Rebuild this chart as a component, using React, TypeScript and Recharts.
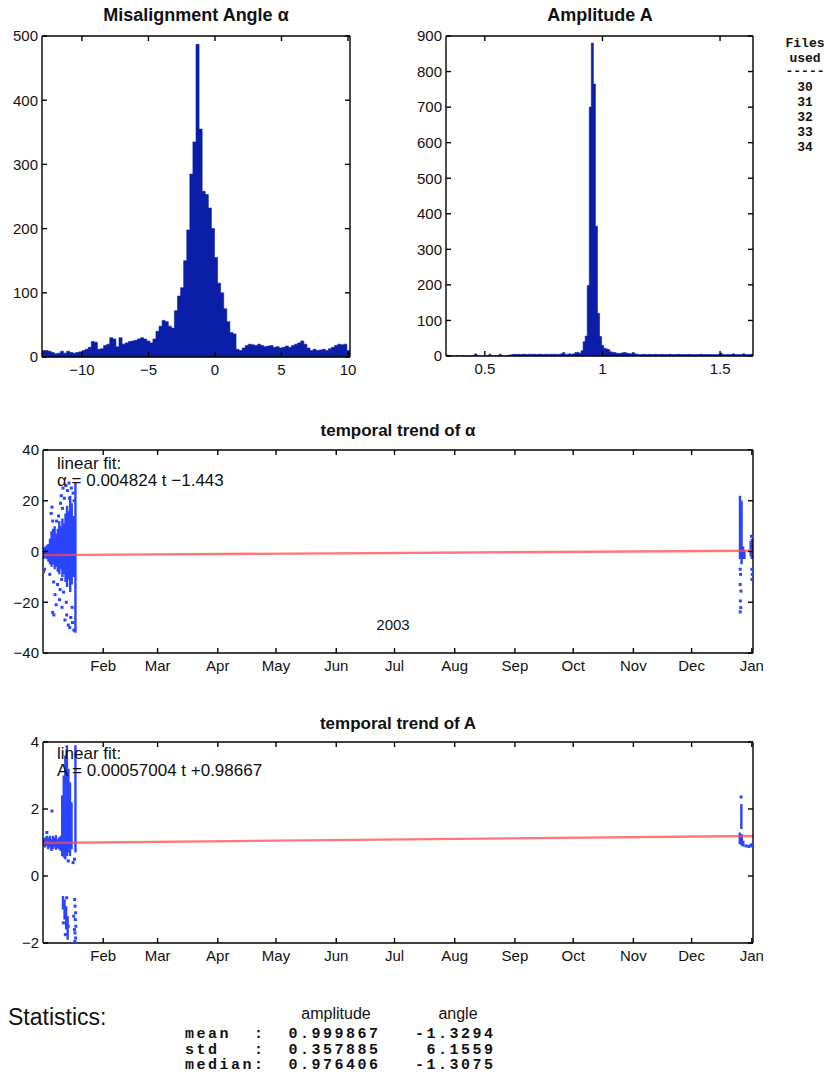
import React from "react";
import { ComposedChart, Area, Line, Scatter, XAxis, YAxis } from "recharts";

const SANS = '"Liberation Sans", Arial, Helvetica, sans-serif';
const MONO = '"Liberation Mono", "Courier New", monospace';
const NAVY = "#0a1ea8";
const DOT = "#2a44ff";
const FIT = "#ff4a4a";
const INK = "#111";

// histogram of the misalignment angle (100 bins)
const alphaBinStart = -13;
const alphaBinWidth = 0.2315;
const alphaCounts = [
  10, 10, 9, 7, 5, 6, 9, 6, 9, 7,
  6, 7, 8, 10, 12, 15, 24, 23, 12, 13,
  18, 20, 30, 28, 16, 30, 20, 22, 24, 25,
  26, 28, 30, 28, 25, 22, 28, 40, 48, 57,
  55, 48, 45, 72, 95, 108, 150, 198, 285, 335,
  487, 355, 258, 253, 232, 200, 155, 115, 100, 75,
  55, 38, 36, 12, 10, 14, 18, 20, 19, 18,
  20, 18, 16, 17, 18, 15, 16, 14, 15, 17,
  15, 18, 20, 22, 25, 20, 14, 10, 12, 10,
  11, 12, 10, 13, 15, 18, 20, 19, 20, 10,
];
const alphaTicks = [-10, -5, 0, 5, 10];
const alphaCountTicks = [0, 100, 200, 300, 400, 500];

// histogram of the amplitude (150 bins)
const ampBinStart = 0.335;
const ampBinWidth = 0.0087;
const ampCounts = [
  3, 1, 1, 0, 0, 1, 0, 0, 1, 0,
  0, 1, 0, 1, 6, 1, 0, 0, 1, 0,
  1, 5, 1, 0, 1, 1, 5, 1, 0, 1,
  2, 3, 4, 5, 4, 5, 4, 5, 5, 4,
  5, 4, 5, 5, 4, 5, 5, 4, 5, 5,
  4, 5, 5, 5, 4, 5, 6, 10, 5, 5,
  6, 5, 6, 10, 10, 8, 15, 40, 56, 198,
  700, 880, 765, 365, 120, 55, 30, 22, 20, 18,
  12, 10, 10, 8, 7, 8, 9, 10, 8, 7,
  6, 10, 6, 5, 4, 4, 5, 4, 4, 5,
  4, 4, 5, 4, 4, 5, 4, 4, 4, 5,
  4, 4, 4, 5, 4, 4, 4, 4, 5, 4,
  4, 4, 4, 4, 5, 4, 4, 4, 4, 4,
  4, 4, 4, 5, 8, 4, 4, 4, 4, 4,
  6, 4, 4, 4, 4, 6, 4, 4, 4, 5,
];
const ampTicks = [0.5, 1, 1.5];
const ampCountTicks = [0, 100, 200, 300, 400, 500, 600, 700, 800, 900];

// time axis: day of year 2003
const dayDomain = [0, 365.6];
const monthDays = [31, 59, 90, 120, 151, 181, 212, 243, 273, 304, 334, 365];
const monthNames = ["Feb", "Mar", "Apr", "May", "Jun", "Jul", "Aug", "Sep", "Oct", "Nov", "Dec", "Jan"];

// alpha vs time: dense columns [day, low, high] and loose points [day, value]
const alphaColumns = [
  [0.3, -3, 1.5], [1.2, -2.5, 2], [2.0, -3, 2.5], [2.8, -4, 3], [3.6, -5, 5],
  [4.4, -6, 8], [5.2, -5, 9], [6.0, -7, 10], [6.8, -6, 7], [7.6, -8, 9],
  [8.4, -9, 12], [9.2, -7, 10], [10.0, -10, 13], [10.8, -9, 11], [11.6, -12, 15],
  [12.4, -14, 18], [13.2, -11, 16], [14.0, -16, 22], [14.8, -13, 19], [15.6, -10, 14],
  [16.7, -32, 27],
  [358.9, -3, 22], [359.7, -5, 20], [360.5, -3, 2], [361.2, -3, 0.5],
  [364.4, -2, 4], [365.0, -3, 5], [365.5, -1, 3],
];
const alphaPoints = [
  [0.3, -8], [0.8, -7], [3.5, -9], [4.2, 15], [4.6, 17.5], [5.0, 12], [5.5, -12],
  [5.0, -24], [5.6, -25], [6.2, -17], [6.8, -21], [7.5, -13], [8.0, 14], [8.5, -19],
  [9.0, 19], [9.4, 22], [9.8, -22], [10.3, 25], [10.6, -16], [11.0, 21], [11.3, -27],
  [11.8, 26], [12.2, -25], [12.6, 24], [13.0, -29], [13.4, 27], [13.8, -30], [14.3, -26],
  [14.6, 25], [15.2, -28], [15.5, 23], [15.9, -31], [16.0, 20], [15.0, -22], [12.0, -20],
  [10.0, 17], [8.8, -15], [7.0, 12], [9.6, -11], [13.6, 21],
  [359.0, -7], [359.2, -9], [359.0, -13], [359.4, -15.6], [359.1, -19.5], [359.3, -22.1],
  [359.0, -23.8], [365.0, -7], [365.2, -9], [365.1, -11], [364.8, 6],
];
const alphaFit = [{ t: 0, v: -1.443 }, { t: 365.6, v: 0.3207 }];
const alphaTrendTicks = [-40, -20, 0, 20, 40];

// amplitude vs time
const ampColumns = [
  [0.3, 0.9, 1.1], [1.1, 0.85, 1.15], [1.9, 0.9, 1.2], [2.7, 0.8, 1.15], [3.5, 0.85, 1.2],
  [4.3, 0.75, 1.1], [5.1, 0.8, 1.2], [5.9, 0.85, 1.15], [6.7, 0.78, 1.22], [7.5, 0.82, 1.1],
  [8.3, 0.8, 1.15], [9.1, 0.75, 1.2], [9.9, 0.6, 2.4], [10.7, 0.55, 3.0], [11.5, 0.5, 3.6],
  [12.3, 0.6, 3.9], [13.1, 0.7, 3.2], [13.9, 0.6, 2.8], [14.7, 0.8, 2.2], [16.7, 0.7, 3.9],
  [10.3, -0.6, -1.0], [11.1, -0.7, -1.3], [11.9, -0.9, -1.6], [12.7, -1.2, -1.9],
  [359.6, 1.4, 2.15], [358.8, 0.95, 1.3], [359.8, 0.9, 1.25], [360.6, 0.88, 1.05],
];
const ampPoints = [
  [4.6, 1.94], [2.0, 1.3], [15.5, 0.4], [16.2, 0.5], [13.0, 0.45],
  [10.5, -1.4], [11.5, -1.75], [12.2, -0.65], [13.0, -1.5], [16.3, -0.7], [16.5, -0.9],
  [16.8, -1.1], [16.6, -1.3], [16.9, -1.5], [16.5, -1.7], [16.8, -1.85], [16.4, -1.95],
  [15.8, -1.2], [16.2, -1.6],
  [359.5, 2.36], [362.0, 0.9], [363.5, 0.88], [364.5, 0.92], [365.3, 0.9], [365.5, 0.95],
];
const ampFit = [{ t: 0, v: 0.98667 }, { t: 365.6, v: 1.19508 }];
const ampTrendTicks = [-2, 0, 2, 4];

const filesUsed = ["30", "31", "32", "33", "34"];
const statRows = [
  "mean  :  0.999867   -1.3294",
  "std   :  0.357885    6.1559",
  "median:  0.976406   -1.3075",
];

// ---- helpers ----
type Box = { x0: number; y0: number; x1: number; y1: number };
const PAD = { l: 50, t: 10, r: 10, b: 30 };
const frameLine = { stroke: "#000", strokeWidth: 1.4 };
const tickText = { fontFamily: SANS, fontSize: 15, fill: INK };
const minus = (v: number) => (v < 0 ? "\u2212" + Math.abs(v) : String(v));
const blank = () => "";

function binsToSteps(start: number, width: number, counts: number[]) {
  const steps = counts.map((c, i) => ({ x: start + i * width, y: c }));
  steps.push({ x: start + counts.length * width, y: counts[counts.length - 1] });
  return steps;
}

function columnsToSegments(cols: number[][]) {
  return cols.flatMap(([t, lo, hi]) => [
    { t, v: lo },
    { t, v: hi },
    { t, v: null },
  ]);
}

function frameAxes(xKey: string, yKey: string, xDomain: number[], xTicks: number[], xFmt: (v: number) => string, yDomain: number[], yTicks: number[]) {
  return [
    <XAxis key="xb" xAxisId="b" type="number" dataKey={xKey} domain={xDomain} ticks={xTicks} interval={0}
      allowDataOverflow tickFormatter={xFmt} tickSize={-5} tickMargin={12} height={28}
      axisLine={frameLine} tickLine={frameLine} tick={tickText} />,
    <XAxis key="xt" xAxisId="t" orientation="top" type="number" dataKey={xKey} domain={xDomain} ticks={xTicks}
      interval={0} allowDataOverflow tickFormatter={blank} tickSize={-5} height={1}
      axisLine={frameLine} tickLine={frameLine} />,
    <YAxis key="yl" yAxisId="l" type="number" dataKey={yKey} domain={yDomain} ticks={yTicks} interval={0}
      allowDataOverflow tickFormatter={minus} tickSize={-5} tickMargin={9} width={45}
      axisLine={frameLine} tickLine={frameLine} tick={tickText} />,
    <YAxis key="yr" yAxisId="r" orientation="right" type="number" dataKey={yKey} domain={yDomain} ticks={yTicks}
      interval={0} allowDataOverflow tickFormatter={blank} tickSize={-5} width={1}
      axisLine={frameLine} tickLine={frameLine} />,
  ];
}

function place(box: Box) {
  const w = box.x1 - box.x0 + PAD.l + PAD.r;
  const h = box.y1 - box.y0 + PAD.t + PAD.b;
  return {
    style: { position: "absolute" as const, left: box.x0 - PAD.l, top: box.y0 - PAD.t },
    w,
    h,
    margin: { left: PAD.l - 45, top: PAD.t - 1, right: PAD.r - 1, bottom: PAD.b - 28 },
  };
}

function Histogram({ box, data, xDomain, xTicks, yDomain, yTicks }: any) {
  const p = place(box);
  return (
    <div style={p.style}>
      <ComposedChart width={p.w} height={p.h} data={data} margin={p.margin}>
        {frameAxes("x", "y", xDomain, xTicks, minus, yDomain, yTicks)}
        <Area xAxisId="b" yAxisId="l" type="stepAfter" dataKey="y" stroke={NAVY} strokeWidth={0.6}
          fill={NAVY} fillOpacity={1} dot={false} activeDot={false} isAnimationActive={false} />
      </ComposedChart>
    </div>
  );
}

const dotShape = (props: any) => (
  <rect x={props.cx - 1.5} y={props.cy - 1.5} width={3} height={3} fill={DOT} />
);

function Trend({ box, columns, points, fit, yDomain, yTicks }: any) {
  const p = place(box);
  const monthLabel = (d: number) => monthNames[monthDays.indexOf(d)] ?? "";
  return (
    <div style={p.style}>
      <ComposedChart width={p.w} height={p.h} data={fit} margin={p.margin}>
        {frameAxes("t", "v", dayDomain, monthDays, monthLabel, yDomain, yTicks)}
        <Line xAxisId="b" yAxisId="l" data={columnsToSegments(columns)} dataKey="v" stroke={DOT}
          strokeWidth={2.4} dot={false} activeDot={false} isAnimationActive={false} />
        <Scatter xAxisId="b" yAxisId="l" data={points.map(([t, v]: number[]) => ({ t, v }))} dataKey="v"
          shape={dotShape} isAnimationActive={false} />
        <Line xAxisId="b" yAxisId="l" data={fit} dataKey="v" stroke={FIT} strokeOpacity={0.75}
          strokeWidth={2.4} dot={false} activeDot={false} isAnimationActive={false} />
      </ComposedChart>
    </div>
  );
}

export default function App() {
  return (
    <div style={{ position: "absolute", left: 0, top: 0, width: 829, height: 1078, background: "#fff", overflow: "hidden" }}>
      <Histogram box={{ x0: 42, y0: 36, x1: 350, y1: 357 }} data={binsToSteps(alphaBinStart, alphaBinWidth, alphaCounts)}
        xDomain={[alphaBinStart, alphaBinStart + alphaCounts.length * alphaBinWidth]} xTicks={alphaTicks}
        yDomain={[0, 500]} yTicks={alphaCountTicks} />
      <Histogram box={{ x0: 446, y0: 36, x1: 753, y1: 356 }} data={binsToSteps(ampBinStart, ampBinWidth, ampCounts)}
        xDomain={[ampBinStart, ampBinStart + ampCounts.length * ampBinWidth]} xTicks={ampTicks}
        yDomain={[0, 900]} yTicks={ampCountTicks} />
      <Trend box={{ x0: 43, y0: 450, x1: 753, y1: 653 }} columns={alphaColumns} points={alphaPoints} fit={alphaFit}
        yDomain={[-40, 40]} yTicks={alphaTrendTicks} />
      <Trend box={{ x0: 43, y0: 742, x1: 753, y1: 943 }} columns={ampColumns} points={ampPoints} fit={ampFit}
        yDomain={[-2, 4]} yTicks={ampTrendTicks} />

      <svg width={829} height={1078} style={{ position: "absolute", left: 0, top: 0, pointerEvents: "none" }}>
        <g fontFamily={SANS} fill={INK}>
          <text x={196} y={21} textAnchor="middle" fontSize={18} fontWeight="bold">Misalignment Angle α</text>
          <text x={600} y={21} textAnchor="middle" fontSize={18} fontWeight="bold">Amplitude A</text>
          <text x={398} y={436} textAnchor="middle" fontSize={17} fontWeight="bold">temporal trend of α</text>
          <text x={398} y={729} textAnchor="middle" fontSize={17} fontWeight="bold">temporal trend of A</text>
          <text x={57} y={469} fontSize={17}>linear fit:</text>
          <text x={57} y={486} fontSize={17}>α = 0.004824 t −1.443</text>
          <text x={393} y={630} textAnchor="middle" fontSize={15}>2003</text>
          <text x={57} y={759} fontSize={17}>linear fit:</text>
          <text x={57} y={776} fontSize={17}>A = 0.00057004 t +0.98667</text>
          <text x={8} y={1025} fontSize={23}>Statistics:</text>
          <text x={336} y={1019} textAnchor="middle" fontSize={16}>amplitude</text>
          <text x={458} y={1019} textAnchor="middle" fontSize={16}>angle</text>
        </g>
        <g fontFamily={MONO} fill={INK} fontWeight="bold" fontSize={13} textAnchor="middle">
          <text x={805} y={47}>Files</text>
          <text x={805} y={62}>used</text>
          <text x={805} y={75}>-----</text>
          {filesUsed.map((f, i) => (
            <text key={f} x={805} y={91 + i * 15}>{f}</text>
          ))}
        </g>
        <g fontFamily={MONO} fill={INK} fontSize={15} fontWeight="bold" letterSpacing={2.5}>
          {statRows.map((r, i) => (
            <text key={i} x={185} y={1038 + i * 15.5} style={{ whiteSpace: "pre" }}>{r}</text>
          ))}
        </g>
      </svg>
    </div>
  );
}
